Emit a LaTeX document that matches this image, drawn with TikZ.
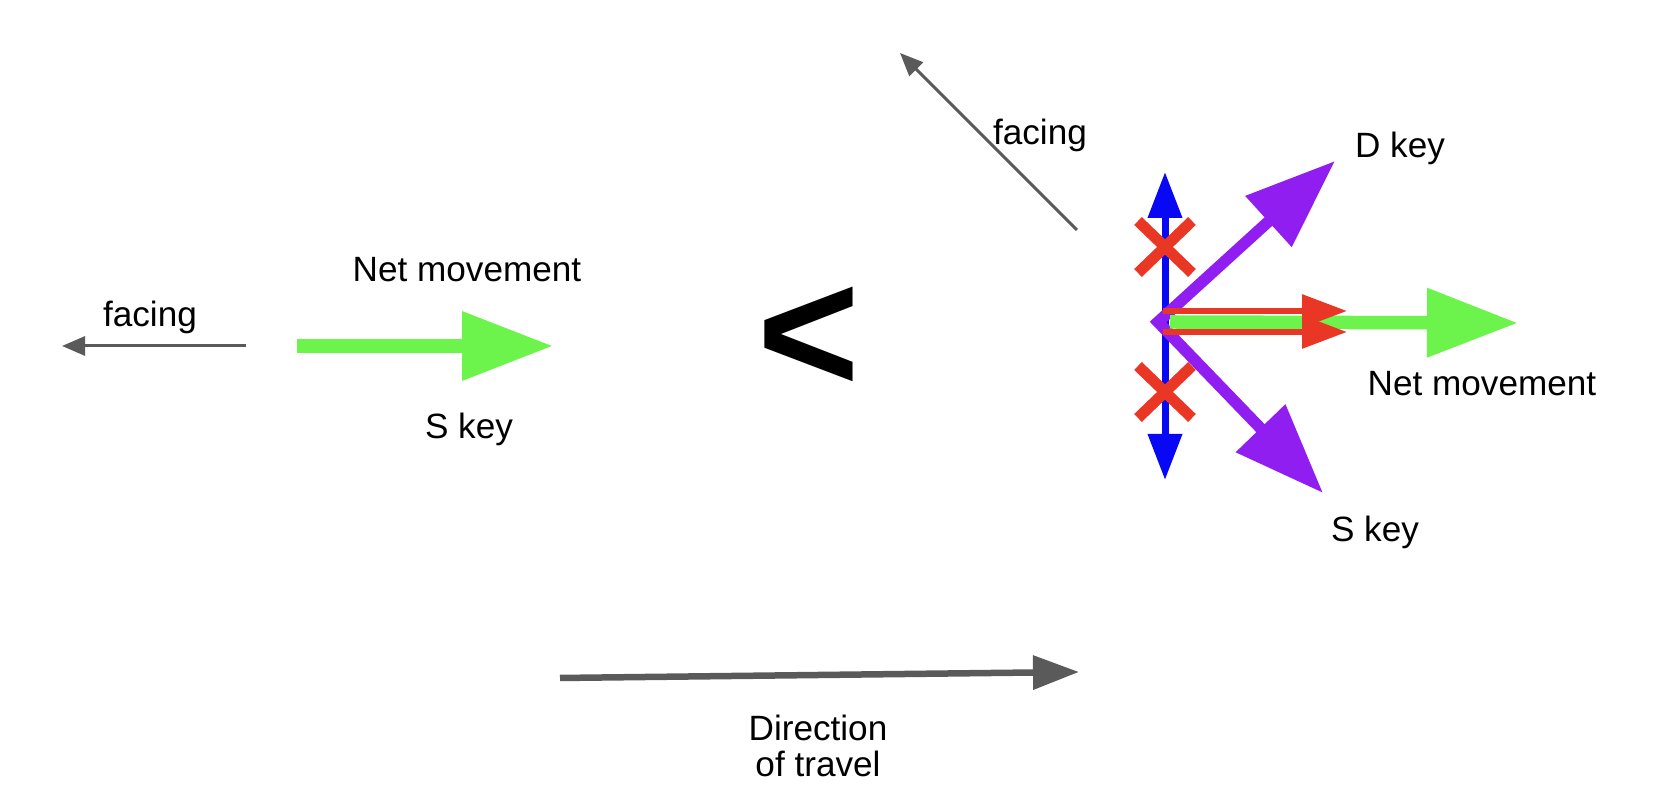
\documentclass[tikz,border=0pt]{standalone}
\usepackage{fontspec}
\setmainfont{Liberation Sans}
\usetikzlibrary{arrows.meta}
\definecolor{netgreen}{RGB}{108,244,76}
\definecolor{keyviolet}{RGB}{145,30,240}
\definecolor{strafeblue}{RGB}{8,8,245}
\definecolor{crossred}{RGB}{234,54,36}
\definecolor{facegray}{RGB}{90,90,90}
\tikzset{
  lab/.style={font=\fontsize{10}{12}\selectfont,align=center,inner sep=1pt},
  faceflow/.style={-{Triangle[length=2.3mm,width=1.9mm]},line width=0.3mm,draw=facegray},
  travelflow/.style={-{Triangle[length=4.6mm,width=3.3mm]},line width=0.65mm,draw=facegray},
  netflow/.style={-{Triangle[length=9.1mm,width=6.6mm]},line width=1.35mm,draw=netgreen},
  keyflow/.style={{Triangle[length=9mm,width=6.6mm]}-{Triangle[length=9mm,width=6.6mm]},
    line width=1.15mm,draw=keyviolet,line join=miter},
  strafeflow/.style={{Triangle[length=4.6mm,width=3.3mm]}-{Triangle[length=4.6mm,width=3.3mm]},
    line width=0.7mm,draw=strafeblue},
  partflow/.style={-{Triangle[length=4.5mm,width=3.2mm]},line width=0.6mm,draw=crossred},
  cross/.style={line width=1.1mm,draw=crossred}
}
\begin{document}
\begin{tikzpicture}
  \useasboundingbox (0,0) rectangle (16.62,8.12);

  % left: holding S only
  \coordinate (lfs) at (2.46,4.66);
  \coordinate (lfe) at (0.62,4.66);
  \coordinate (lns) at (2.97,4.66);
  \coordinate (lne) at (5.53,4.66);
  \draw[faceflow] (lfs) -- (lfe);
  \draw[netflow] (lns) -- (lne);
  \node[lab] (lface) at (1.50,4.95) {facing};
  \node[lab] (lnet) at (4.67,5.42) {Net movement};
  \node[lab] (lskey) at (4.69,3.83) {S key};

  \node[font=\fontsize{50}{50}\selectfont\bfseries,inner sep=0pt] (lt) at (8.09,4.72) {<};

  % right: S and D together
  \coordinate (o) at (11.58,4.90);
  \coordinate (bt) at (11.65,6.40);
  \coordinate (bb) at (11.65,3.32);
  \coordinate (dt) at (13.35,6.51);
  \coordinate (st) at (13.23,3.19);
  \coordinate (gs) at (11.70,4.90);
  \coordinate (ge) at (15.18,4.89);
  \coordinate (r1s) at (11.63,5.01);
  \coordinate (r1e) at (13.47,5.01);
  \coordinate (r2s) at (11.63,4.80);
  \coordinate (r2e) at (13.47,4.80);
  \coordinate (rfs) at (10.77,5.82);
  \coordinate (rfe) at (9.00,7.59);

  \draw[faceflow] (rfs) -- (rfe);
  \draw[strafeflow] (bb) -- (bt);
  \draw[keyflow] (dt) -- (o) -- (st);
  \draw[netflow] (gs) -- (ge);
  \draw[partflow] (r1s) -- (r1e);
  \draw[partflow] (r2s) -- (r2e);
  \foreach \cy in {5.65,4.20}{
    \draw[cross] (11.38,\cy-0.26) -- (11.92,\cy+0.26);
    \draw[cross] (11.38,\cy+0.26) -- (11.92,\cy-0.26);
  }
  \node[lab] (rface) at (10.40,6.77) {facing};
  \node[lab] (dkey) at (14.00,6.64) {D key};
  \node[lab] (rnet) at (14.82,4.28) {Net movement};
  \node[lab] (rskey) at (13.75,2.80) {S key};

  % direction of travel
  \coordinate (ts) at (5.60,1.34);
  \coordinate (te) at (10.79,1.40);
  \draw[travelflow] (ts) -- (te);
  \node[lab,font=\fontsize{10}{10.5}\selectfont] (dir) at (8.18,0.66) {Direction\\of travel};
\end{tikzpicture}
\end{document}
